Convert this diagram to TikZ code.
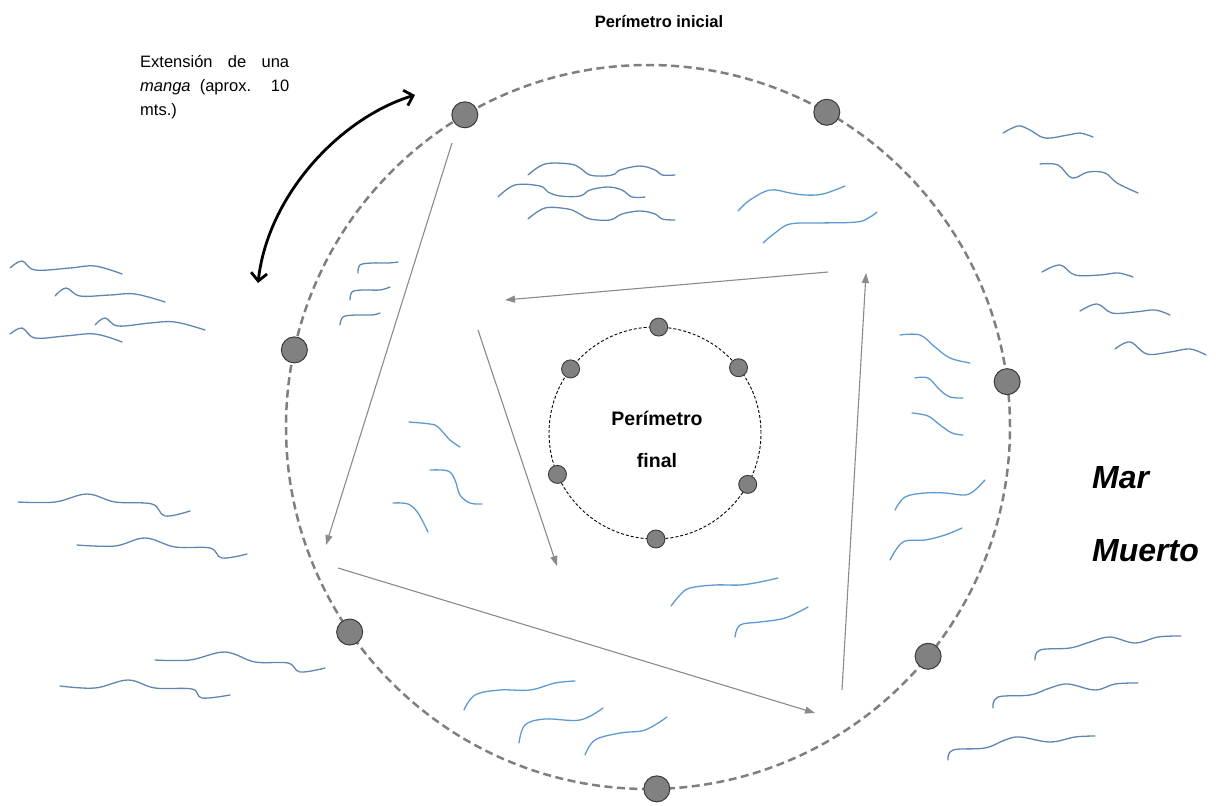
\documentclass[tikz,border=0pt]{standalone}
\usepackage{fontspec}
\setmainfont{Liberation Sans}
\usetikzlibrary{arrows.meta,calc}
\definecolor{ringgray}{HTML}{7F7F7F}
\definecolor{dotfill}{HTML}{818181}
\definecolor{dotline}{HTML}{3A3A3A}
\definecolor{arrgray}{HTML}{8A8A8A}
\definecolor{wavein}{HTML}{5E9AD2}
\definecolor{waveout}{HTML}{5F86B0}
\begin{document}
\begin{tikzpicture}[x=1pt,y=-1pt,
  bigdot/.style={circle,draw=dotline,line width=1pt,fill=dotfill,minimum size=26pt,inner sep=0pt},
  smalldot/.style={circle,draw=dotline,line width=0.9pt,fill=dotfill,minimum size=18pt,inner sep=0pt},
  walk/.style={draw=arrgray,line width=1.1pt,-{Triangle[length=10pt,width=7pt]}},
  wavei/.style={draw=wavein,line width=1.3pt,line cap=round},
  waveo/.style={draw=waveout,line width=1.3pt,line cap=round},
  lbl/.style={font=\fontsize{16.5}{18}\selectfont\bfseries,inner sep=0pt},
  inlbl/.style={font=\fontsize{19.5}{22}\selectfont\bfseries,inner sep=0pt},
  sea/.style={inner sep=0pt,anchor=west,font=\fontsize{32}{36}\selectfont\bfseries\itshape}]
\useasboundingbox (0,0) rectangle (1216,806);
\coordinate (C) at (648,427);
\coordinate (c) at (655,433);
% outer perimeter
\draw[ringgray,line width=2.5pt,dash pattern=on 8pt off 4.5pt] (C) circle[radius=362pt];
% inner perimeter
\draw[black,line width=0.9pt,dash pattern=on 3pt off 2pt] (c) circle[radius=106pt];
% big dots
\node[bigdot] (p1) at ($(C)+(120.4:362pt)$) {};
\node[bigdot] (p2) at ($(C)+(60.4:362pt)$) {};
\node[bigdot] (p3) at ($(C)+(167.7:362pt)$) {};
\node[bigdot] (p4) at ($(C)+(7.2:362pt)$) {};
\node[bigdot] (p5) at ($(C)+(214.5:362pt)$) {};
\node[bigdot] (p6) at ($(C)+(-39.3:362pt)$) {};
\node[bigdot] (p7) at ($(C)+(-88.6:362pt)$) {};
% small dots
\node[smalldot] (q1) at ($(c)+(88:106pt)$) {};
\node[smalldot] (q2) at ($(c)+(142.8:106pt)$) {};
\node[smalldot] (q3) at ($(c)+(38:106pt)$) {};
\node[smalldot] (q4) at ($(c)+(203:106pt)$) {};
\node[smalldot] (q5) at ($(c)+(-29:106pt)$) {};
\node[smalldot] (q6) at ($(c)+(-89.5:106pt)$) {};
% texts
\node[lbl] (ini) at (659,22) {Perímetro inicial};
\node[inlbl] (fin1) at (657,418) {Perímetro};
\node[inlbl] (fin2) at (657,461) {final};
\node[sea] (mar) at (1092,478) {Mar};
\node[sea] (muerto) at (1092,551) {Muerto};
\node[inner sep=0pt,anchor=north west,align=left,font=\fontsize{16.5}{24}\selectfont] (ext) at (140,55)
  {\makebox[149pt][s]{Extensión de una}\\\makebox[149pt][s]{\emph{manga} (aprox. 10}\\mts.)};
% curved double arrow
\coordinate (ea) at (258,283);
\coordinate (eb) at (415,95);
\draw[black,line width=2.8pt,{Straight Barb[length=8pt,width=16pt]}-{Straight Barb[length=8pt,width=16pt]}]
  (ea) .. controls (268,195) and (340,118) .. (eb);
% walking arrows
\coordinate (a1s) at (452,143); \coordinate (a1e) at (326,545);
\coordinate (a2s) at (338,568); \coordinate (a2e) at (815,713);
\coordinate (a3s) at (842,690); \coordinate (a3e) at (866,273);
\coordinate (a4s) at (828,272); \coordinate (a4e) at (505,300);
\coordinate (a5s) at (478,330); \coordinate (a5e) at (557,566);
\draw[walk] (a1s) -- (a1e);
\draw[walk] (a2s) -- (a2e);
\draw[walk] (a3s) -- (a3e);
\draw[walk] (a4s) -- (a4e);
\draw[walk] (a5s) -- (a5e);
% outer waves
\draw[waveo] plot[smooth,tension=0.6] coordinates {(10,268) (22,261) (35,270) (70,268) (95,266) (122,274)};
\draw[waveo] plot[smooth,tension=0.6] coordinates {(55,296) (66,288) (80,296) (110,295) (135,294) (165,302)};
\draw[waveo] plot[smooth,tension=0.6] coordinates {(95,325) (105,318) (118,326) (150,323) (175,322) (205,330)};
\draw[waveo] plot[smooth,tension=0.6] coordinates {(10,334) (22,328) (35,338) (65,336) (95,334) (122,342)};
\draw[waveo] plot[smooth,tension=0.6] coordinates {(18,502) (55,502) (87,494) (115,502) (152,504) (165,516) (190,511)};
\draw[waveo] plot[smooth,tension=0.6] coordinates {(77,545) (115,546) (145,538) (175,547) (210,548) (222,558) (247,554)};
\draw[waveo] plot[smooth,tension=0.6] coordinates {(155,660) (190,660) (225,652) (255,662) (288,663) (300,672) (325,668)};
\draw[waveo] plot[smooth,tension=0.6] coordinates {(60,686) (95,688) (128,680) (155,688) (192,689) (202,698) (230,695)};
\draw[waveo] plot[smooth,tension=0.6] coordinates {(1003,133) (1018,126) (1030,130) (1045,138) (1068,135) (1080,133) (1093,137)};
\draw[waveo] plot[smooth,tension=0.6] coordinates {(1040,164) (1058,165) (1072,178) (1088,172) (1105,173) (1117,183) (1138,193)};
\draw[waveo] plot[smooth,tension=0.6] coordinates {(1042,272) (1060,265) (1075,275) (1100,275) (1118,273) (1133,277)};
\draw[waveo] plot[smooth,tension=0.6] coordinates {(1080,311) (1097,304) (1112,313) (1135,312) (1155,310) (1170,315)};
\draw[waveo] plot[smooth,tension=0.6] coordinates {(1115,349) (1130,342) (1147,354) (1170,352) (1190,349) (1206,355)};
\draw[waveo] plot[smooth,tension=0.6] coordinates {(1035,660) (1040,650) (1070,648) (1090,642) (1110,637) (1135,643) (1158,637) (1181,636)};
\draw[waveo] plot[smooth,tension=0.6] coordinates {(993,708) (998,697) (1030,695) (1050,688) (1068,684) (1095,690) (1115,684) (1138,683)};
\draw[waveo] plot[smooth,tension=0.6] coordinates {(948,760) (953,750) (985,748) (1005,740) (1020,737) (1050,742) (1075,737) (1095,736)};
% inner waves
\draw[waveo] plot[smooth,tension=0.6] coordinates {(528,175) (545,164) (570,164) (580,168) (590,175) (605,176) (615,174) (620,170) (640,166) (655,170) (662,175) (675,175)};
\draw[waveo] plot[smooth,tension=0.6] coordinates {(498,197) (515,185) (540,186) (548,192) (560,196) (580,196) (590,190) (608,187) (622,190) (632,197) (645,197)};
\draw[waveo] plot[smooth,tension=0.6] coordinates {(528,219) (545,208) (568,209) (578,213) (590,219) (610,220) (622,214) (640,211) (655,214) (662,219) (675,220)};
\draw[wavei] plot[smooth,tension=0.6] coordinates {(738,211) (750,200) (770,190) (790,193) (805,195) (823,194) (845,186)};
\draw[wavei] plot[smooth,tension=0.6] coordinates {(763,243) (775,233) (790,224) (820,223) (857,222) (870,217) (877,212)};
\draw[waveo] plot[smooth,tension=0.6] coordinates {(358,273) (360,265) (372,263) (388,263) (398,262)};
\draw[waveo] plot[smooth,tension=0.6] coordinates {(350,300) (352,292) (362,290) (380,290) (390,287)};
\draw[waveo] plot[smooth,tension=0.6] coordinates {(340,325) (343,317) (355,315) (372,315) (380,313)};
\draw[wavei] plot[smooth,tension=0.6] coordinates {(409,422) (430,424) (438,427) (450,440) (460,447)};
\draw[wavei] plot[smooth,tension=0.6] coordinates {(430,470) (448,471) (455,480) (460,495) (470,503) (482,504)};
\draw[wavei] plot[smooth,tension=0.6] coordinates {(393,503) (408,504) (418,513) (428,532)};
\draw[wavei] plot[smooth,tension=0.6] coordinates {(900,335) (920,335) (935,347) (950,358) (970,363)};
\draw[wavei] plot[smooth,tension=0.6] coordinates {(915,378) (928,378) (940,390) (950,397) (963,398)};
\draw[wavei] plot[smooth,tension=0.6] coordinates {(912,413) (928,416) (940,425) (952,433) (963,435)};
\draw[wavei] plot[smooth,tension=0.6] coordinates {(895,510) (905,497) (925,493) (945,493) (965,495) (975,490) (985,480)};
\draw[wavei] plot[smooth,tension=0.6] coordinates {(890,560) (903,542) (925,540) (945,535) (962,528)};
\draw[wavei] plot[smooth,tension=0.6] coordinates {(671,606) (680,595) (690,588) (715,585) (740,585) (760,582) (778,578)};
\draw[wavei] plot[smooth,tension=0.6] coordinates {(735,637) (740,625) (760,622) (785,618) (808,607)};
\draw[wavei] plot[smooth,tension=0.6] coordinates {(464,710) (475,695) (500,690) (530,690) (555,683) (575,681)};
\draw[wavei] plot[smooth,tension=0.6] coordinates {(519,743) (525,725) (545,719) (580,720) (603,708)};
\draw[wavei] plot[smooth,tension=0.6] coordinates {(585,755) (595,740) (620,733) (645,730) (667,717)};
\end{tikzpicture}
\end{document}
